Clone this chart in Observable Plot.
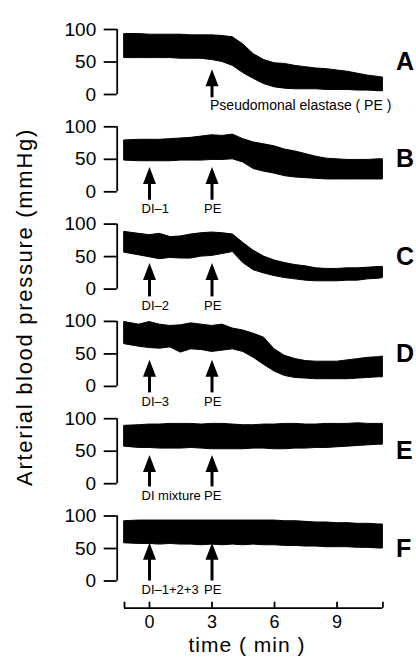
<!DOCTYPE html>
<html>
<head>
<meta charset="utf-8">
<script src="https://cdn.jsdelivr.net/npm/d3@7"></script>
<script src="https://cdn.jsdelivr.net/npm/@observablehq/plot@0.6"></script>
<style>
html, body { margin: 0; padding: 0; background: #fff; }
#wrap { position: relative; width: 416px; height: 662px; font-family: "Liberation Sans", Arial, sans-serif; color: #000; }
#chart { position: absolute; left: 0; top: 0; }
#ylab { position: absolute; left: 25px; top: 307px; transform: translate(-50%, -50%) rotate(-90deg); white-space: nowrap; font-size: 22px; line-height: 1; letter-spacing: 1.7px; }
#xlab { position: absolute; left: 247px; top: 634px; transform: translateX(-50%); white-space: nowrap; font-size: 21px; line-height: 1; letter-spacing: 1px; }
</style>
</head>
<body>
<div id="wrap">
  <div id="chart"></div>
  <div id="ylab">Arterial blood pressure (mmHg)</div>
  <div id="xlab">time ( min )</div>
</div>
<script>
// ---------- data ----------
const panels = ["A", "B", "C", "D", "E", "F"];
const time = [-1.2, -0.5, 0, 0.5, 1, 1.5, 2, 2.5, 3, 3.5, 4, 4.5, 5, 5.5, 6, 6.5, 7, 7.5, 8, 8.5, 9, 9.5, 10, 10.5, 11, 11.2];

const hiA = [93,93,92,92,92,92,91,91,91,90,88,77,62,53,48,47,44,42,40,39,37,35,32,29,27,26];
const loA = [56,56,56,56,56,55,55,55,53,50,44,33,24,16,11,9,8,8,8,7,7,7,6,6,5,5];
const hiB = [79,80,80,80,81,82,83,85,87,86,88,81,76,73,70,65,62,58,54,51,50,49,49,49,50,50];
const loB = [48,47,47,47,47,48,48,48,49,49,50,45,35,31,28,24,22,21,20,19,19,19,19,19,19,19];
const hiC = [88,85,83,85,80,81,84,86,87,86,84,71,59,50,44,40,37,35,32,31,31,32,32,33,34,34];
const loC = [56,52,49,46,48,47,47,50,51,54,57,40,29,24,20,17,15,13,12,12,12,13,13,15,16,17];
const hiD = [99,95,99,95,93,94,97,95,93,95,89,86,81,75,57,47,42,39,38,38,38,40,42,44,45,46];
const loD = [65,61,59,58,60,52,57,56,53,55,57,53,44,33,23,16,13,12,11,11,11,11,12,13,14,14];
const hiE = [89,90,91,91,92,92,92,91,92,92,91,90,90,91,91,92,92,91,91,92,92,92,93,92,92,92];
const loE = [57,55,55,54,54,54,55,54,53,53,53,53,54,54,53,53,54,54,55,55,56,57,58,59,60,60];
const hiF = [92,93,93,93,93,93,93,93,93,93,93,93,93,93,93,92,92,91,90,90,89,89,88,88,87,87];
const loF = [58,57,57,56,57,56,56,55,56,55,56,55,56,55,55,54,54,53,53,52,52,52,51,51,50,50];

const arrowPanel = ["A", "B", "B", "C", "C", "D", "D", "E", "E", "F", "F"];
const arrowTime  = [3, 0, 3, 0, 3, 0, 3, 0, 3, 0, 3];
const arrowTip   = [39, 38, 38, 40, 40, 41, 41, 44, 44, 59, 59];
const arrowTail  = [-5, -13, -13, -12, -12, -10, -10, -5, -5, 0, 0];
const arrowLabel = ["Pseudomonal elastase ( PE )", "DI\u20131", "PE", "DI\u20132", "PE", "DI\u20133", "PE", "DI mixture", "PE", "DI\u20131+2+3", "PE"];

const xTicks = [0, 3, 6, 9];
const yTicks = [0, 50, 100];
const xDomain = [-1.2, 11.2];
const yDomain = [0, 100];

// ---------- build tables ----------
const series = {A: [loA, hiA], B: [loB, hiB], C: [loC, hiC], D: [loD, hiD], E: [loE, hiE], F: [loF, hiF]};
const rows = [];
panels.forEach(p => time.forEach((t, i) => rows.push({panel: p, t, lo: series[p][0][i], hi: series[p][1][i]})));
const arrows = arrowPanel.map((p, i) => ({panel: p, t: arrowTime[i], tip: arrowTip[i], tail: arrowTail[i], label: arrowLabel[i]}));

// ---------- layout ----------
const W = 416, H = 662;
const marginTop = 29, marginBottom = 81.5;
const padIn = 0.332;
const step = (H - marginTop - marginBottom) / (panels.length - padIn);
const bw = step * (1 - padIn);
const axisGap = 27.2;
const font = "'Liberation Sans', Arial, sans-serif";
const lastPanel = panels[panels.length - 1];

const chart = Plot.plot({
  width: W,
  height: H,
  marginTop,
  marginBottom,
  marginLeft: 124,
  marginRight: 33.6,
  style: {fontFamily: font, fontSize: "18px", color: "#000", background: "#fff", overflow: "visible"},
  x: {domain: xDomain},
  y: {domain: yDomain},
  fy: {domain: panels, paddingInner: padIn, paddingOuter: 0, round: false},
  marks: [
    // pressure traces
    Plot.areaY(rows, {x: "t", y1: "lo", y2: "hi", fy: "panel", fill: "#000", stroke: "#000", strokeWidth: 1, curve: "linear"}),
    // y axis line for every panel
    Plot.ruleX(panels, {x: () => xDomain[0], y1: () => yDomain[0], y2: () => yDomain[1], fy: d => d, dx: -7.3, strokeWidth: 1.8}),
    Plot.axisY(yTicks, {anchor: "left", tickSize: 13, tickPadding: 8, dx: -7.3, fontSize: 19, strokeWidth: 1.8, label: null}),
    // x axis (bottom panel only)
    Plot.ruleY([yDomain[0]], {fy: () => lastPanel, dy: axisGap, strokeWidth: 1.8}),
    Plot.ruleX([xDomain[0], ...xTicks, xDomain[1]], {x: d => d, fy: () => lastPanel, insetTop: bw - 6, dy: axisGap, strokeWidth: 1.8}),
    Plot.axisX(xTicks, {anchor: "bottom", tickSize: 0, tickPadding: 7, dy: axisGap, fontSize: 18, label: null}),
    // panel letters
    Plot.axisFy({anchor: "right", tickSize: 0, tickPadding: 13, fontSize: 25, fontWeight: "bold", label: null}),
    // arrows
    Plot.ruleX(arrows, {x: "t", y1: "tip", y2: "tail", fy: "panel", strokeWidth: 3, insetTop: 8}),
    Plot.vector(arrows, {x: "t", y: "tip", fy: "panel", shape: "spike", length: 17, r: 6.5, anchor: "end", fill: "#000", stroke: "none"}),
    // arrow labels
    Plot.text(arrows.filter(d => d.panel === "A"), {x: "t", y: "tail", fy: "panel", text: "label", textAnchor: "start", lineAnchor: "top", dx: -2, dy: 2, fontSize: 14}),
    Plot.text(arrows.filter(d => d.panel !== "A"), {x: "t", y: "tail", fy: "panel", text: "label", textAnchor: "start", lineAnchor: "top", dx: -8, dy: 4, fontSize: 13})
  ]
});
document.getElementById("chart").appendChild(chart);
</script>
</body>
</html>
